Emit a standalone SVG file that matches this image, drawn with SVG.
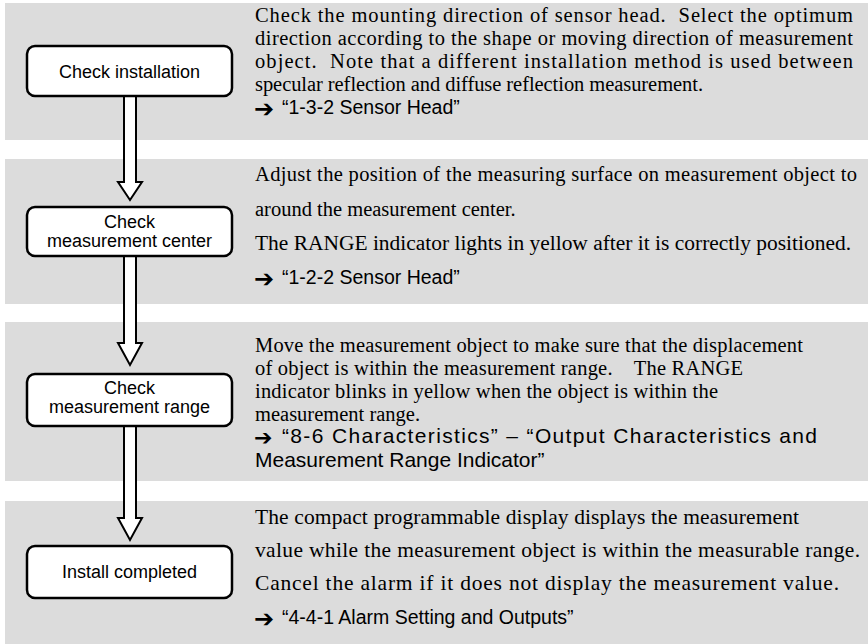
<svg xmlns="http://www.w3.org/2000/svg" width="868" height="644" viewBox="0 0 868 644">
<style>
.panel{fill:#dcdcdc}
.box{fill:#fff;stroke:#000;stroke-width:2.5}
.lbl{font-family:"Liberation Sans",Arial,sans-serif;font-size:18px;fill:#000;text-anchor:middle}
.ser{font-family:"Liberation Serif","Times New Roman",serif;font-size:20.5px;fill:#000}
.s4{font-size:21.5px}
.ref{font-family:"Liberation Sans",Arial,sans-serif;font-size:19.5px;fill:#000}
.r3{font-size:21px}
.ar{font-family:"DejaVu Sans",sans-serif;font-size:24px;font-weight:bold}
.a3{font-size:22px}
.arr{fill:#fff;stroke:#000;stroke-width:2;stroke-linejoin:miter}
</style>
<rect width="868" height="644" fill="#fff"/>
<g id="panels">
<rect class="panel" x="5" y="3" width="863" height="137"/>
<rect class="panel" x="5" y="159" width="863" height="145"/>
<rect class="panel" x="5" y="322" width="863" height="159"/>
<rect class="panel" x="5" y="501" width="863" height="143"/>
</g>
<g id="connectors">
<path class="arr" d="M124,97 V182 H118 L130,200 L142,182 H136 V97"/>
<path class="arr" d="M124,257 V343 H118 L130,365 L142,343 H136 V257"/>
<path class="arr" d="M124,427 V518 H118 L130,540 L142,518 H136 V427"/>
</g>
<g id="n1">
<rect class="box" x="27" y="46" width="205" height="50" rx="8"/>
<text class="lbl" x="129.5" y="78">Check installation</text>
</g>
<g id="n2">
<rect class="box" x="27" y="207" width="205" height="49" rx="8"/>
<text class="lbl" x="129.5" y="228">Check</text>
<text class="lbl" x="129.5" y="247">measurement center</text>
</g>
<g id="n3">
<rect class="box" x="27" y="374" width="205" height="52" rx="8"/>
<text class="lbl" x="129.5" y="394">Check</text>
<text class="lbl" x="129.5" y="413">measurement range</text>
</g>
<g id="n4">
<rect class="box" x="27" y="546" width="205" height="52" rx="8"/>
<text class="lbl" x="129.5" y="578">Install completed</text>
</g>
<g id="t1">
<text class="ser" x="255" y="22" textLength="598" lengthAdjust="spacing">Check the mounting direction of sensor head.&#160; Select the optimum</text>
<text class="ser" x="255" y="45" textLength="598" lengthAdjust="spacing">direction according to the shape or moving direction of measurement</text>
<text class="ser" x="255" y="68" textLength="598" lengthAdjust="spacing">object.&#160; Note that a different installation method is used between</text>
<text class="ser" x="255" y="91" textLength="448" lengthAdjust="spacing">specular reflection and diffuse reflection measurement.</text>
<text class="ar" x="254" y="117">➔</text>
<text class="ref" x="282" y="114">“1-3-2 Sensor Head”</text>
</g>
<g id="t2">
<text class="ser" x="255" y="181" textLength="602" lengthAdjust="spacing">Adjust the position of the measuring surface on measurement object to</text>
<text class="ser" x="255" y="216">around the measurement center.</text>
<text class="ser" x="255" y="250" textLength="596" lengthAdjust="spacingAndGlyphs">The RANGE indicator lights in yellow after it is correctly positioned.</text>
<text class="ar" x="254" y="287">➔</text>
<text class="ref" x="282" y="284">“1-2-2 Sensor Head”</text>
</g>
<g id="t3">
<text class="ser" x="255" y="352" textLength="548" lengthAdjust="spacing">Move the measurement object to make sure that the displacement</text>
<text class="ser" x="255" y="375" textLength="488" lengthAdjust="spacing">of object is within the measurement range.&#160;&#160;&#160; The RANGE</text>
<text class="ser" x="255" y="398" textLength="463" lengthAdjust="spacing">indicator blinks in yellow when the object is within the</text>
<text class="ser" x="255" y="421">measurement range.</text>
<text class="ar a3" x="254" y="445">➔</text>
<text class="ref r3" x="282" y="443" textLength="535" lengthAdjust="spacing">“8-6 Characteristics” – “Output Characteristics and</text>
<text class="ref r3" x="255" y="467">Measurement Range Indicator”</text>
</g>
<g id="t4">
<text class="ser s4" x="255" y="524" textLength="544" lengthAdjust="spacing">The compact programmable display displays the measurement</text>
<text class="ser s4" x="255" y="557" textLength="605" lengthAdjust="spacing">value while the measurement object is within the measurable range.</text>
<text class="ser s4" x="255" y="590" textLength="584" lengthAdjust="spacing">Cancel the alarm if it does not display the measurement value.</text>
<text class="ar" x="254" y="627">➔</text>
<text class="ref" x="282" y="624">“4-4-1 Alarm Setting and Outputs”</text>
</g>
</svg>
